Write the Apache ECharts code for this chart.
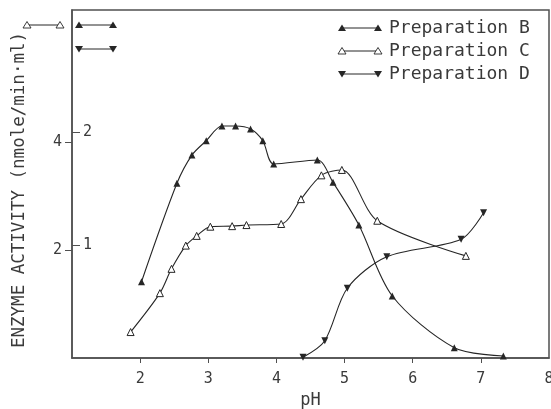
<!DOCTYPE html>
<html>
<head>
<meta charset="utf-8">
<script src="https://cdn.jsdelivr.net/npm/echarts@6/dist/echarts.min.js"></script>
<style>
  html, body { margin: 0; padding: 0; background: #ffffff; }
  #chart { width: 551px; height: 409px; }
</style>
</head>
<body>
<div id="chart"></div>
<script>
// pH profiles of enzyme activity for three preparations
const phB  = [2.02, 2.54, 2.76, 2.97, 3.20, 3.40, 3.62, 3.80, 3.96, 4.60, 4.83, 5.21, 5.70, 6.61, 7.33];
const actB = [0.675, 1.546, 1.796, 1.923, 2.053, 2.053, 2.027, 1.923, 1.717, 1.752, 1.555, 1.177, 0.549, 0.091, 0.018];

const phC  = [1.86, 2.29, 2.46, 2.67, 2.83, 3.03, 3.35, 3.56, 4.07, 4.36, 4.66, 4.96, 5.48, 6.78];
const actC = [0.48, 1.20, 1.65, 2.08, 2.26, 2.43, 2.44, 2.46, 2.48, 2.94, 3.38, 3.48, 2.54, 1.89];

const phD  = [4.39, 4.71, 5.04, 5.62, 6.71, 7.04];
const actD = [0.006, 0.153, 0.617, 0.896, 1.050, 1.286];

const xTickLabels = [2, 3, 4, 5, 6, 7, 8];
const outerTicks  = [2, 4];   // scale used by Preparation C
const innerTicks  = [1, 2];   // scale used by Preparations B and D
const seriesNames = ['Preparation B', 'Preparation C', 'Preparation D'];
const yTitle = 'ENZYME ACTIVITY (nmole/min\u00b7ml)';

const INK = '#262626';
const TEXT = '#3a3a3a';
const FONT = '"DejaVu Sans Mono", monospace';

const pairs = (xs, ys) => xs.map((x, i) => [x, ys[i]]);

// small triangle markers used in the hand-made key
function tri(x, y, down, open) {
  const pts = down
    ? [[x, y + 3.5], [x + 4, y - 3], [x - 4, y - 3]]
    : [[x, y - 3.5], [x + 4, y + 3], [x - 4, y + 3]];
  return {
    type: 'polygon', z: 100,
    shape: { points: pts },
    style: open ? { fill: '#fff', stroke: INK, lineWidth: 0.9 } : { fill: INK }
  };
}
function keyMark(x1, x2, y, down, open) {
  return [
    { type: 'line', z: 99, shape: { x1: x1, y1: y, x2: x2, y2: y }, style: { stroke: INK, lineWidth: 1 } },
    tri(x1, y, down, open),
    tri(x2, y, down, open)
  ];
}

const graphics = [].concat(
  // scale key beside the y axis
  keyMark(27, 60, 25, false, true),
  keyMark(79, 113, 25, false, false),
  keyMark(79, 113, 49, true, false),
  // series key
  keyMark(342, 378, 28, false, false),
  keyMark(342, 378, 51, false, true),
  keyMark(342, 378, 74, true, false),
  [
    { type: 'text', z: 100, x: 389, y: 28, style: { text: seriesNames[0], font: '18px ' + FONT, fill: TEXT, verticalAlign: 'middle' } },
    { type: 'text', z: 100, x: 389, y: 51, style: { text: seriesNames[1], font: '18px ' + FONT, fill: TEXT, verticalAlign: 'middle' } },
    { type: 'text', z: 100, x: 389, y: 74, style: { text: seriesNames[2], font: '18px ' + FONT, fill: TEXT, verticalAlign: 'middle' } },
    // vertical axis title
    { type: 'text', z: 100, x: 19, y: 190, rotation: Math.PI / 2,
      style: { text: yTitle, font: '17.5px ' + FONT, fill: TEXT, align: 'center', verticalAlign: 'middle' } }
  ]
);

const chart = echarts.init(document.getElementById('chart'), null, { renderer: 'canvas' });

const baseLine = {
  type: 'line',
  smooth: 0.3,
  symbol: 'triangle',
  symbolSize: 7,
  lineStyle: { color: INK, width: 1.1 },
  itemStyle: { color: INK },
  z: 5
};

chart.setOption({
  animation: false,
  backgroundColor: '#ffffff',
  grid: {
    left: 72, right: 2, top: 10, bottom: 51,
    containLabel: false,
    outerBoundsMode: 'none',
    show: true, borderColor: '#505050', borderWidth: 1.5
  },
  xAxis: {
    type: 'value',
    min: 1, max: 8, interval: 1,
    name: 'pH',
    nameLocation: 'middle',
    nameGap: 33,
    nameTextStyle: { fontFamily: FONT, fontSize: 17, color: TEXT },
    axisLine: { show: true, lineStyle: { color: '#505050', width: 1.5 } },
    axisTick: { show: true, length: 5, lineStyle: { color: '#505050' }, customValues: [2, 3, 4, 5, 6, 7] },
    axisLabel: { customValues: xTickLabels, margin: 14, fontFamily: FONT, fontSize: 15, color: TEXT },
    splitLine: { show: false }
  },
  yAxis: [
    {
      // outer scale (Preparation C)
      type: 'value',
      position: 'left',
      min: 0, max: 6.44,
      axisLine: { show: true, lineStyle: { color: '#505050', width: 1.5 } },
      axisTick: { show: true, length: 7, lineStyle: { color: '#505050' }, customValues: outerTicks },
      axisLabel: { customValues: outerTicks, margin: 10, fontFamily: FONT, fontSize: 15, color: TEXT },
      splitLine: { show: false }
    },
    {
      // inner scale (Preparations B and D)
      type: 'value',
      position: 'left',
      min: 0, max: 3.08,
      axisLine: { show: false },
      axisTick: { show: true, inside: true, length: 8, lineStyle: { color: '#505050' }, customValues: innerTicks },
      axisLabel: { inside: true, customValues: innerTicks, margin: 11, fontFamily: FONT, fontSize: 15, color: TEXT },
      splitLine: { show: false }
    }
  ],
  series: [
    Object.assign({}, baseLine, {
      name: seriesNames[0],
      yAxisIndex: 1,
      data: pairs(phB, actB)
    }),
    Object.assign({}, baseLine, {
      name: seriesNames[1],
      yAxisIndex: 0,
      itemStyle: { color: '#ffffff', borderColor: INK, borderWidth: 1 },
      data: pairs(phC, actC)
    }),
    Object.assign({}, baseLine, {
      name: seriesNames[2],
      yAxisIndex: 1,
      symbolRotate: 180,
      data: pairs(phD, actD)
    })
  ],
  graphic: graphics
});
</script>
</body>
</html>
